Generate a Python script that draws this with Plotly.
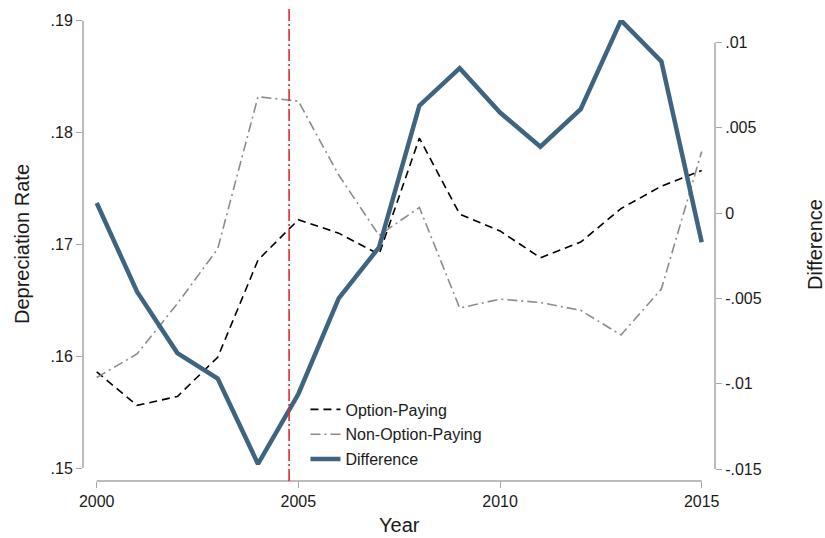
import plotly.graph_objects as go

# Annual depreciation rates by firm type and their difference
years = list(range(2000, 2016))
option_paying = [0.1586, 0.1556, 0.1564, 0.1599, 0.1686, 0.1722, 0.1710, 0.1691,
                 0.1795, 0.1727, 0.1712, 0.1688, 0.1702, 0.1732, 0.1752, 0.1766]
non_option_paying = [0.1581, 0.1602, 0.1647, 0.1696, 0.1832, 0.1828, 0.1762, 0.1708,
                     0.1733, 0.1643, 0.1651, 0.1648, 0.1641, 0.1619, 0.1660, 0.1783]
difference = [0.0006, -0.0046, -0.0082, -0.0097, -0.0147, -0.0106, -0.0050, -0.0020,
              0.0063, 0.0085, 0.0059, 0.0039, 0.0061, 0.0113, 0.0089, -0.0017]

event_year = 2004.77

left_ticks = [0.15, 0.16, 0.17, 0.18, 0.19]
left_labels = [".15", ".16", ".17", ".18", ".19"]
right_ticks = [-0.015, -0.01, -0.005, 0.0, 0.005, 0.01]
right_labels = ["-.015", "-.01", "-.005", "0", ".005", ".01"]
x_ticks = [2000, 2005, 2010, 2015]

FONT = "Liberation Sans, Arial, sans-serif"
AXIS_GREY = "#a6a6a6"
DIFF_COLOR = "#3f6480"
TEXT = "#1a1a1a"

fig = go.Figure()
fig.add_trace(go.Scatter(
    x=years, y=option_paying, name="Option-Paying", mode="lines",
    line=dict(color="black", width=1.6, dash="8px,5px"), legendgroup="a"))
fig.add_trace(go.Scatter(
    x=years, y=non_option_paying, name="Non-Option-Paying", mode="lines",
    line=dict(color="#8c8c8c", width=1.6, dash="10px,4px,2px,4px"), legendgroup="b"))
fig.add_trace(go.Scatter(
    x=years, y=difference, name="Difference", mode="lines", yaxis="y2",
    line=dict(color=DIFF_COLOR, width=4.5), legendgroup="c"))

tick_common = dict(ticks="outside", ticklen=6, tickwidth=1.3, tickcolor=AXIS_GREY,
                   showgrid=False, zeroline=False, showline=False,
                   tickfont=dict(family=FONT, size=16, color=TEXT))

fig.update_layout(
    width=825, height=538,
    margin=dict(l=83, r=110, t=18, b=57),
    paper_bgcolor="white", plot_bgcolor="white",
    font=dict(family=FONT, color=TEXT),
    xaxis=dict(range=[1999.66, 2015.33], tickvals=x_ticks, **tick_common),
    yaxis=dict(range=[0.14884, 0.19006], tickvals=left_ticks, ticktext=left_labels,
               **tick_common),
    yaxis2=dict(range=[-0.0157, 0.011325], tickvals=right_ticks, ticktext=right_labels,
                overlaying="y", side="right", **tick_common),
    showlegend=True,
    legend=dict(x=0.352, y=0.192, xanchor="left", yanchor="top",
                bgcolor="rgba(0,0,0,0)", tracegroupgap=1,
                font=dict(family=FONT, size=16, color=TEXT)),
)

# Axis lines spanning only the labelled ranges
line_style = dict(color=AXIS_GREY, width=1.5)
fig.add_shape(type="line", xref="paper", yref="y", x0=0, x1=0,
              y0=left_ticks[0], y1=left_ticks[-1], line=line_style)
fig.add_shape(type="line", xref="paper", yref="y2", x0=1, x1=1,
              y0=right_ticks[0], y1=right_ticks[-1], line=line_style)
fig.add_shape(type="line", xref="x", yref="paper", x0=x_ticks[0], x1=x_ticks[-1],
              y0=0, y1=0, line=line_style)

# Event marker
fig.add_shape(type="line", xref="x", yref="paper", x0=event_year, x1=event_year,
              y0=0, y1=1.024, line=dict(color="#e8262e", width=1.6, dash="12px,3px,2px,3px"))

# Axis titles
title_font = dict(family=FONT, size=20, color=TEXT)
fig.add_annotation(text="Depreciation Rate", xref="paper", yref="paper",
                   x=-0.0965, y=0.514, xanchor="center", yanchor="middle",
                   textangle=-90, showarrow=False, font=title_font)
fig.add_annotation(text="Difference", xref="paper", yref="paper",
                   x=1.158, y=0.514, xanchor="center", yanchor="middle",
                   textangle=-90, showarrow=False, font=title_font)
fig.add_annotation(text="Year", xref="paper", yref="paper",
                   x=0.5, y=-0.095, xanchor="center", yanchor="middle",
                   showarrow=False, font=title_font)

fig.write_html("out.html")
